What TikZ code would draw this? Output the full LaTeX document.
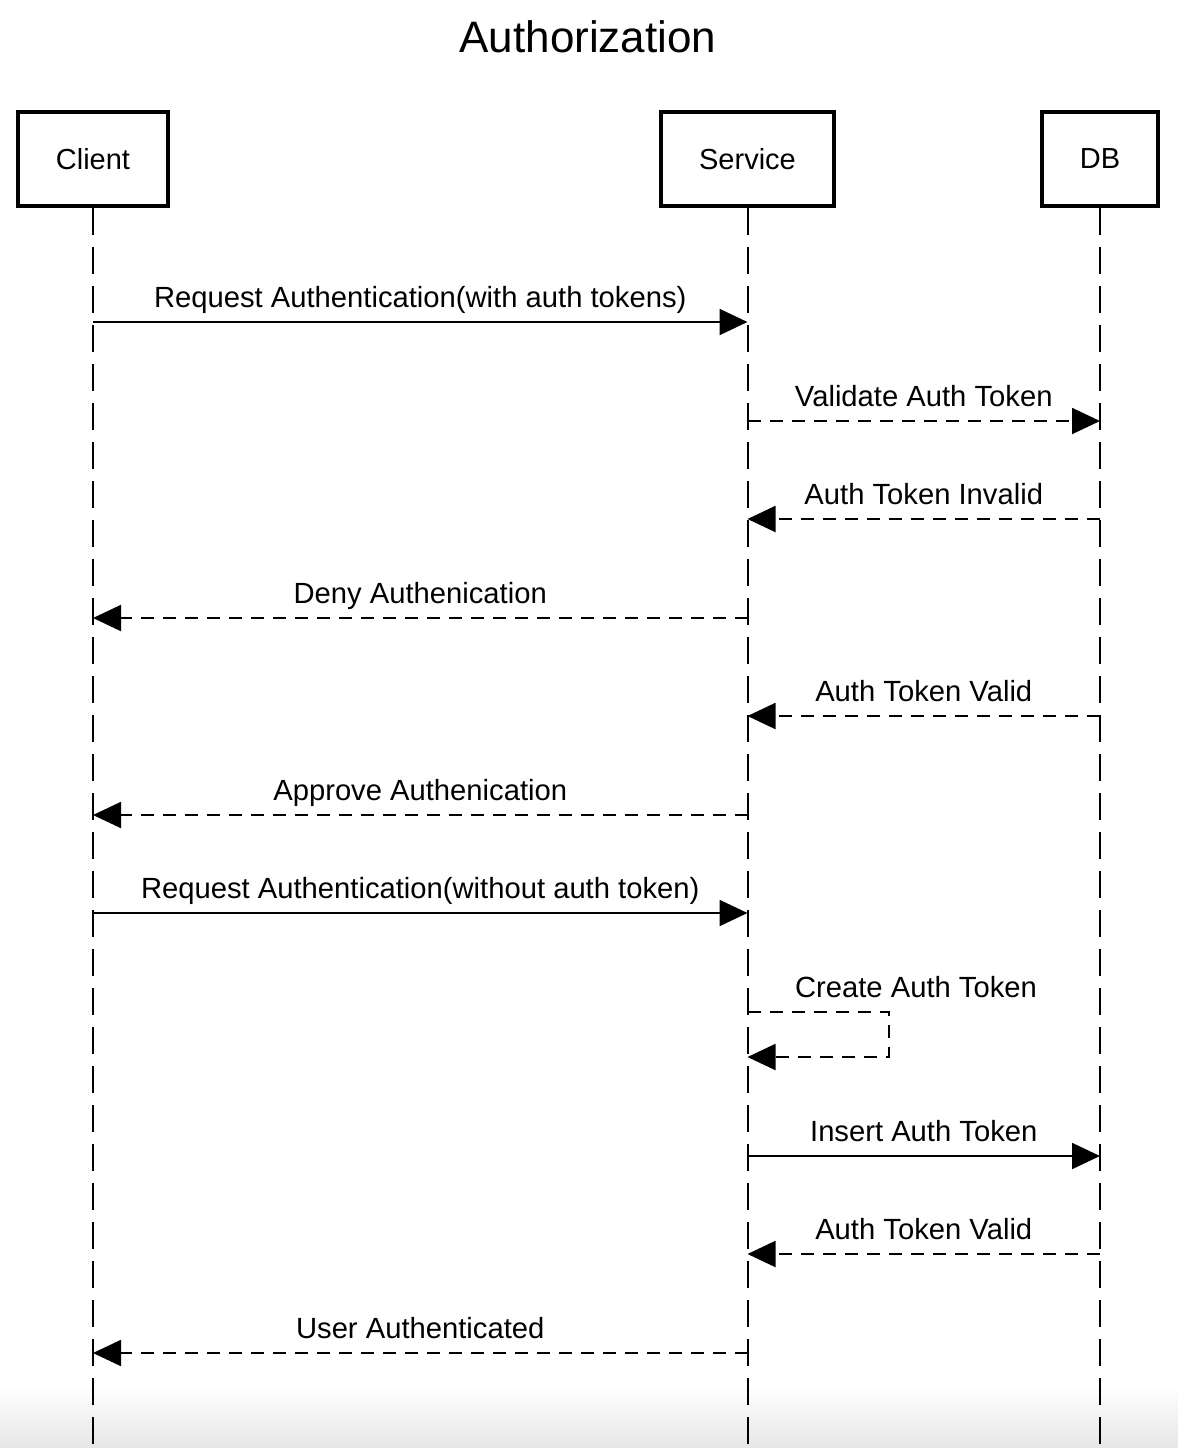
\documentclass[tikz,border=0pt]{standalone}
\usepackage{fontspec}
\setmainfont{Liberation Sans}
\usetikzlibrary{arrows.meta}
\tikzset{
  actor/.style={draw=black, line width=2.2pt, minimum height=47pt, inner sep=0pt, font=\fontsize{14.5}{17}\selectfont},
  lifeline/.style={line width=1pt, dash pattern=on 13.5pt off 6pt},
  call/.style={line width=1pt, -{Triangle[length=14pt,width=13pt]}},
  reply/.style={call, dash pattern=on 6.5pt off 4.5pt},
  msg/.style={midway, anchor=base, yshift=7.5pt, inner sep=0pt, font=\fontsize{14.6}{17}\selectfont}
}
\begin{document}
\begin{tikzpicture}[x=0.5pt, y=-0.5pt]
			\useasboundingbox (0,0) rectangle (1178,1448);
			% screenshot shadow at the bottom
			\shade [top color=white, bottom color=black!10, draw=none] (0,1385) rectangle (1178,1448);
			\node (title) at (588,37) {\fontsize{22}{26}\selectfont Authorization};
			% participants
			\node [actor, minimum width=75pt] (client) at (93,159) {Client};
			\node [actor, minimum width=86.5pt] (service) at (747.5,159) {Service};
			\node [actor, minimum width=58pt] (db) at (1100,159) {DB};
			\coordinate (clientend) at (client |- 0,1448);
			\coordinate (serviceend) at (service |- 0,1448);
			\coordinate (dbend) at (db |- 0,1448);
			\draw [lifeline] (client.south) -- (clientend);
			\draw [lifeline] (service.south) -- (serviceend);
			\draw [lifeline] (db.south) -- (dbend);
			% message rows
			\foreach \i/\y in {1/322,2/421,3/519,4/618,5/716,6/815,7/913,8/1012,9/1057,10/1156,11/1254,12/1353}{
				\coordinate (c\i) at (client |- 0,\y);
				\coordinate (s\i) at (service |- 0,\y);
				\coordinate (d\i) at (db |- 0,\y);
			}
			\draw [call] (c1) -- (s1) node [msg] {Request Authentication(with auth tokens)};
			\draw [reply] (s2) -- (d2) node [msg] {Validate Auth Token};
			\draw [reply] (d3) -- (s3) node [msg] {Auth Token Invalid};
			\draw [reply] (s4) -- (c4) node [msg] {Deny Authenication};
			\draw [reply] (d5) -- (s5) node [msg] {Auth Token Valid};
			\draw [reply] (s6) -- (c6) node [msg] {Approve Authenication};
			\draw [call] (c7) -- (s7) node [msg] {Request Authentication(without auth token)};
			\draw [reply] (s8) -- ++(141,0) |- (s9);
			\node [anchor=base, inner sep=0pt, font=\fontsize{14.6}{17}\selectfont] (create) at (916,997) {Create Auth Token};
			\draw [call] (s10) -- (d10) node [msg] {Insert Auth Token};
			\draw [reply] (d11) -- (s11) node [msg] {Auth Token Valid};
			\draw [reply] (s12) -- (c12) node [msg] {User Authenticated};
\end{tikzpicture}
\end{document}
